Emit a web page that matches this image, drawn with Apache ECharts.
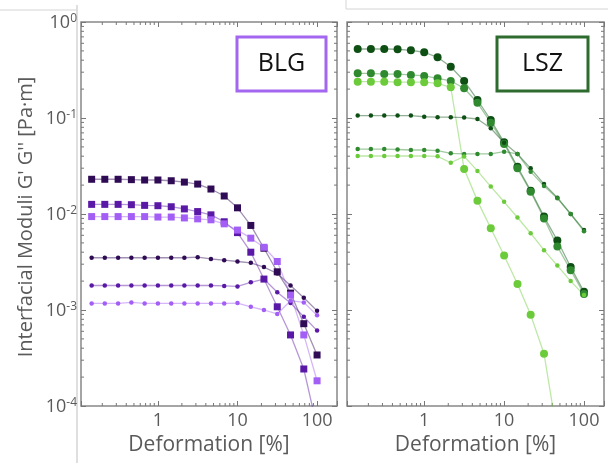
<!DOCTYPE html>
<html>
<head>
<meta charset="utf-8">
<script src="https://cdn.jsdelivr.net/npm/echarts@6/dist/echarts.min.js"></script>
<style>
html, body { margin: 0; padding: 0; background: #fff; }
#chart { width: 608px; height: 463px; }
</style>
</head>
<body>
<div id="chart"></div>
<script>
// strain amplitudes (%) of the sweep, same for every curve
var strain = [0.147, 0.215, 0.316, 0.464, 0.681, 1, 1.47, 2.15, 3.16, 4.64, 6.81, 10, 14.7, 21.5, 31.6, 46.4, 68.1, 100];

// BLG: G' (squares) and G'' (small dots), three shades
var blgG1Dark  = [0.0230, 0.0230, 0.0230, 0.0228, 0.0226, 0.0226, 0.0222, 0.0215, 0.0205, 0.0182, 0.0154, 0.0116, 0.0076, 0.0044, 0.0025, 0.0015, 0.00072, 0.00034];
var blgG1Mid   = [0.0126, 0.0126, 0.0126, 0.0125, 0.0123, 0.0122, 0.0119, 0.0113, 0.0106, 0.0098, 0.0083, 0.0064, 0.0040, 0.0021, 0.00108, 0.00055, 0.000243, 0.00006];
var blgG1Light = [0.0094, 0.0094, 0.0094, 0.0094, 0.0094, 0.0093, 0.0093, 0.0091, 0.0089, 0.0087, 0.0079, 0.0068, 0.0056, 0.0045, 0.0032, 0.00143, 0.00055, 0.000183];
var blgG2Dark  = [0.0035, 0.0035, 0.0035, 0.0035, 0.0035, 0.0035, 0.0035, 0.0035, 0.00355, 0.0034, 0.0033, 0.0032, 0.0031, 0.0028, 0.0024, 0.0018, 0.00134, 0.00098];
var blgG2Mid   = [0.0018, 0.0018, 0.0018, 0.0018, 0.0018, 0.0018, 0.0018, 0.0018, 0.0018, 0.0018, 0.00178, 0.00176, 0.00194, 0.0021, 0.00153, 0.00118, 0.00085, 0.00061];
var blgG2Light = [0.00117, 0.00117, 0.00117, 0.0012, 0.00117, 0.00117, 0.00117, 0.00117, 0.00117, 0.00117, 0.00117, 0.00118, 0.00108, 0.0010, 0.00091, 0.00125, 0.00120, 0.00088];

// LSZ: G' (large dots) and G'' (small dots), three shades
var lszG1Dark  = [0.523, 0.523, 0.523, 0.520, 0.507, 0.484, 0.429, 0.342, 0.243, 0.154, 0.0953, 0.0558, 0.0311, 0.0175, 0.0094, 0.0053, 0.0028, 0.00155];
var lszG1Mid   = [0.292, 0.292, 0.287, 0.287, 0.281, 0.274, 0.259, 0.243, 0.204, 0.144, 0.0893, 0.0537, 0.0299, 0.0171, 0.0090, 0.0046, 0.0026, 0.00147];
var lszG1Light = [0.239, 0.239, 0.239, 0.236, 0.236, 0.236, 0.230, 0.209, 0.0294, 0.0137, 0.0071, 0.0037, 0.00187, 0.00089, 0.00035, 0.00005];
var lszG2Dark  = [0.106, 0.106, 0.106, 0.106, 0.106, 0.103, 0.102, 0.102, 0.101, 0.0976, 0.0781, 0.0553, 0.0422, 0.0299, 0.0205, 0.0148, 0.0100, 0.0068];
var lszG2Mid   = [0.0475, 0.0475, 0.0475, 0.0470, 0.0464, 0.0464, 0.0457, 0.0429, 0.0422, 0.0422, 0.0422, 0.0446, 0.0422, 0.0276, 0.0196, 0.0146, 0.0100, 0.0066];
var lszG2Light = [0.0402, 0.0402, 0.0402, 0.0402, 0.0402, 0.0402, 0.0399, 0.0342, 0.0398, 0.0281, 0.0193, 0.0134, 0.0092, 0.0063, 0.0042, 0.0029, 0.0020, 0.00143];

var xMin = 0.108, xMax = 178, yMin = 1e-4, yMax = 1;

// minor ticks at 2..9 of each decade
var minorX = [], minorY = [];
[0.1, 1, 10, 100].forEach(function (d) {
  for (var m = 2; m <= 9; m++) if (m * d > xMin && m * d < xMax) minorX.push(m * d);
});
[1e-4, 1e-3, 1e-2, 1e-1].forEach(function (d) {
  for (var m = 2; m <= 9; m++) minorY.push(m * d);
});

var chart = echarts.init(document.getElementById('chart'));
var font = 'Open Sans';
var tickColor = '#777';
var textColor = '#5a5a5a';

function pairs(ys) {
  return ys.map(function (y, i) { return [strain[i], y]; });
}

function isDecade(v) {
  var e = Math.round(Math.log10(v));
  return Math.abs(Math.log10(v) - e) < 1e-6 ? e : null;
}

function xAxisDef(gi, pos) {
  return {
    type: 'log', logBase: 10, gridIndex: gi, position: pos,
    min: xMin, max: xMax,
    axisLine: { show: false },
    axisTick: { show: true, inside: true, length: 5, lineStyle: { color: tickColor, width: 1 } },
    splitLine: { show: false },
    axisLabel: {
      show: pos === 'bottom', margin: 6, color: textColor, fontFamily: font, fontSize: 18,
      formatter: function (v) {
        var e = isDecade(v);
        return e !== null && e >= 0 ? String(Math.round(Math.pow(10, e))) : '';
      }
    },
    name: pos === 'bottom' ? 'Deformation [%]' : '',
    nameLocation: 'middle', nameGap: 29,
    nameTextStyle: { color: textColor, fontFamily: font, fontSize: 21 }
  };
}

function yAxisDef(gi, pos, labels) {
  return {
    type: 'log', logBase: 10, gridIndex: gi, position: pos,
    min: yMin, max: yMax,
    axisLine: { show: false },
    axisTick: { show: true, inside: true, length: 5, lineStyle: { color: tickColor, width: 1 } },
    splitLine: { show: false },
    axisLabel: {
      show: labels, margin: 4, color: textColor, fontFamily: font,
      formatter: function (v) {
        var e = isDecade(v);
        return e === null ? '' : '{b|10}{s|' + e + '}';
      },
      rich: {
        b: { fontSize: 18, fontFamily: font, color: textColor, lineHeight: 19, verticalAlign: 'bottom', padding: [6, 0, 0, 0] },
        s: { fontSize: 12, fontFamily: font, color: textColor, lineHeight: 14, verticalAlign: 'top' }
      }
    }
  };
}

function curve(ys, color, symbol, size, xi, yi) {
  return {
    type: 'line', data: pairs(ys), xAxisIndex: xi, yAxisIndex: yi,
    symbol: symbol, symbolSize: size, showSymbol: true, clip: true,
    itemStyle: { color: color },
    lineStyle: { color: color, width: 1.3, opacity: 0.45 },
    emphasis: { disabled: true },
    animation: false, z: 3
  };
}

function xMinorTick(params, api) {
  var cs = params.coordSys;
  var x = api.coord([api.value(0), 1])[0];
  var st = { stroke: tickColor, lineWidth: 1 };
  return { type: 'group', children: [
    { type: 'line', shape: { x1: x, y1: cs.y + cs.height, x2: x, y2: cs.y + cs.height - 3 }, style: st },
    { type: 'line', shape: { x1: x, y1: cs.y, x2: x, y2: cs.y + 3 }, style: st }
  ] };
}

function yMinorTick(params, api) {
  var cs = params.coordSys;
  var y = api.coord([1, api.value(1)])[1];
  var st = { stroke: tickColor, lineWidth: 1 };
  return { type: 'group', children: [
    { type: 'line', shape: { x1: cs.x, y1: y, x2: cs.x + 3, y2: y }, style: st },
    { type: 'line', shape: { x1: cs.x + cs.width, y1: y, x2: cs.x + cs.width - 3, y2: y }, style: st }
  ] };
}

function minorSeries(xi, yi) {
  return [
    { type: 'custom', xAxisIndex: xi, yAxisIndex: yi, silent: true, animation: false,
      data: minorX.map(function (v) { return [v, 1]; }), renderItem: xMinorTick },
    { type: 'custom', xAxisIndex: xi, yAxisIndex: yi, silent: true, animation: false,
      data: minorY.map(function (v) { return [1, v]; }), renderItem: yMinorTick }
  ];
}

var purple = ['#2f0a55', '#5a18a6', '#a35ef5'];
var green = ['#0e4f14', '#2f8a2f', '#6ccb3a'];
var grey = '#d4d4d4';

var option = {
  backgroundColor: '#fff',
  grid: [
    { left: 81, top: 22, width: 256, height: 384, show: true, borderColor: '#888', borderWidth: 1.5, backgroundColor: '#fff' },
    { left: 347, top: 22, width: 257, height: 384, show: true, borderColor: '#888', borderWidth: 1.5, backgroundColor: '#fff' }
  ],
  xAxis: [xAxisDef(0, 'bottom'), xAxisDef(0, 'top'), xAxisDef(1, 'bottom'), xAxisDef(1, 'top')],
  yAxis: [yAxisDef(0, 'left', true), yAxisDef(0, 'right', false), yAxisDef(1, 'left', false), yAxisDef(1, 'right', false)],
  series: [].concat(
    minorSeries(0, 0),
    minorSeries(2, 2),
    [
      curve(blgG2Dark, purple[0], 'circle', 4.5, 0, 0),
      curve(blgG2Mid, purple[1], 'circle', 4.5, 0, 0),
      curve(blgG2Light, purple[2], 'circle', 4.5, 0, 0),
      curve(blgG1Dark, purple[0], 'rect', 7, 0, 0),
      curve(blgG1Mid, purple[1], 'rect', 7, 0, 0),
      curve(blgG1Light, purple[2], 'rect', 7, 0, 0),
      curve(lszG1Dark, green[0], 'circle', 8, 2, 2),
      curve(lszG1Mid, green[1], 'circle', 8, 2, 2),
      curve(lszG1Light, green[2], 'circle', 8, 2, 2),
      curve(lszG2Dark, green[0], 'circle', 4.5, 2, 2),
      curve(lszG2Mid, green[1], 'circle', 4.5, 2, 2),
      curve(lszG2Light, green[2], 'circle', 4.5, 2, 2)
    ]
  ),
  graphic: [
    // edges of the cropped figure
    { type: 'line', shape: { x1: 0, y1: 10, x2: 77, y2: 10 }, style: { stroke: grey, lineWidth: 1 } },
    { type: 'line', shape: { x1: 77, y1: 5, x2: 77, y2: 463 }, style: { stroke: grey, lineWidth: 1.5 } },
    { type: 'line', shape: { x1: 346, y1: 9, x2: 608, y2: 9 }, style: { stroke: grey, lineWidth: 1 } },
    { type: 'line', shape: { x1: 346, y1: 0, x2: 346, y2: 9 }, style: { stroke: grey, lineWidth: 1 } },
    {
      type: 'text', x: 26, y: 217, rotation: Math.PI / 2,
      style: { text: "Interfacial Moduli G' G'' [Pa\u00b7m]", fill: textColor, font: '20px "' + font + '"', textAlign: 'center', textVerticalAlign: 'middle' }
    },
    { type: 'rect', shape: { x: 237, y: 37, width: 89, height: 54 }, style: { fill: '#fff', stroke: '#a366f0', lineWidth: 3 }, z: 10 },
    { type: 'text', x: 281.5, y: 64, style: { text: 'BLG', fill: '#111', font: '25px "' + font + '"', textAlign: 'center', textVerticalAlign: 'middle' }, z: 11 },
    { type: 'rect', shape: { x: 497, y: 37, width: 91, height: 54 }, style: { fill: '#fff', stroke: '#2e6b2e', lineWidth: 3 }, z: 10 },
    { type: 'text', x: 542.5, y: 64, style: { text: 'LSZ', fill: '#111', font: '25px "' + font + '"', textAlign: 'center', textVerticalAlign: 'middle' }, z: 11 }
  ]
};

chart.setOption(option);
</script>
</body>
</html>
